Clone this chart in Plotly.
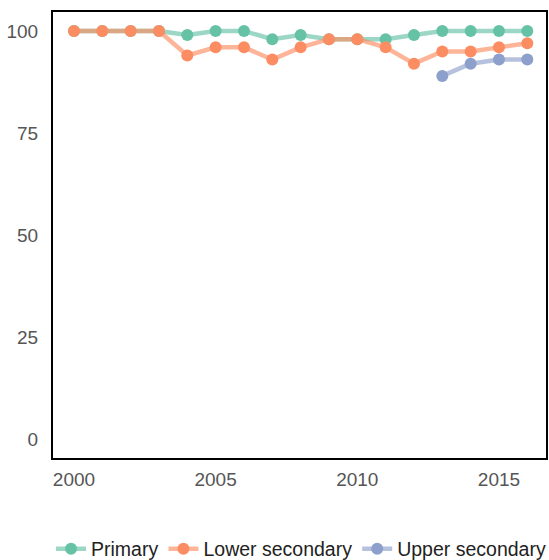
import plotly.graph_objects as go

years = list(range(2000, 2017))
primary = [100, 100, 100, 100, 99, 100, 100, 98, 99, 98, 98, 98, 99, 100, 100, 100, 100]
lower_secondary = [100, 100, 100, 100, 94, 96, 96, 93, 96, 98, 98, 96, 92, 95, 95, 96, 97]
upper_years = [2013, 2014, 2015, 2016]
upper_secondary = [89, 92, 93, 93]

series = [
    ("Primary", years, primary, "102,194,165"),
    ("Lower secondary", years, lower_secondary, "252,141,98"),
    ("Upper secondary", upper_years, upper_secondary, "141,160,203"),
]

fig = go.Figure()
for name, xs, ys, rgb in series:
    fig.add_trace(go.Scatter(
        x=xs, y=ys, name=name, mode="lines+markers",
        line=dict(color=f"rgba({rgb},0.65)", width=4.5),
        marker=dict(color=f"rgb({rgb})", size=12),
    ))

fig.update_layout(
    width=549, height=560,
    margin=dict(l=53, r=3, t=12, b=102, autoexpand=False),
    paper_bgcolor="white", plot_bgcolor="white",
    font=dict(family="Liberation Sans, Arial, sans-serif", size=19, color="#555"),
    showlegend=True,
    legend=dict(orientation="h", x=-0.004, xanchor="left", y=-0.204, yanchor="middle",
                font=dict(size=19.5, color="#222"), itemwidth=30, tracegroupgap=0),
    xaxis=dict(range=[1999.26, 2016.66], tickvals=[2000, 2005, 2010, 2015],
               showgrid=False, zeroline=False, showline=True, mirror=True,
               linecolor="black", linewidth=2, ticks="", ticklabelstandoff=3,
               automargin=False),
    yaxis=dict(range=[-4.66, 104.66], tickvals=[0, 25, 50, 75, 100],
               showgrid=False, zeroline=False, showline=True, mirror=True,
               linecolor="black", linewidth=2, ticks="", ticklabelstandoff=9,
               automargin=False),
)

fig.write_html(
    "out.html",
    config={"displayModeBar": False},
    post_script="document.body.style.margin='0';document.body.style.overflow='hidden';",
)
